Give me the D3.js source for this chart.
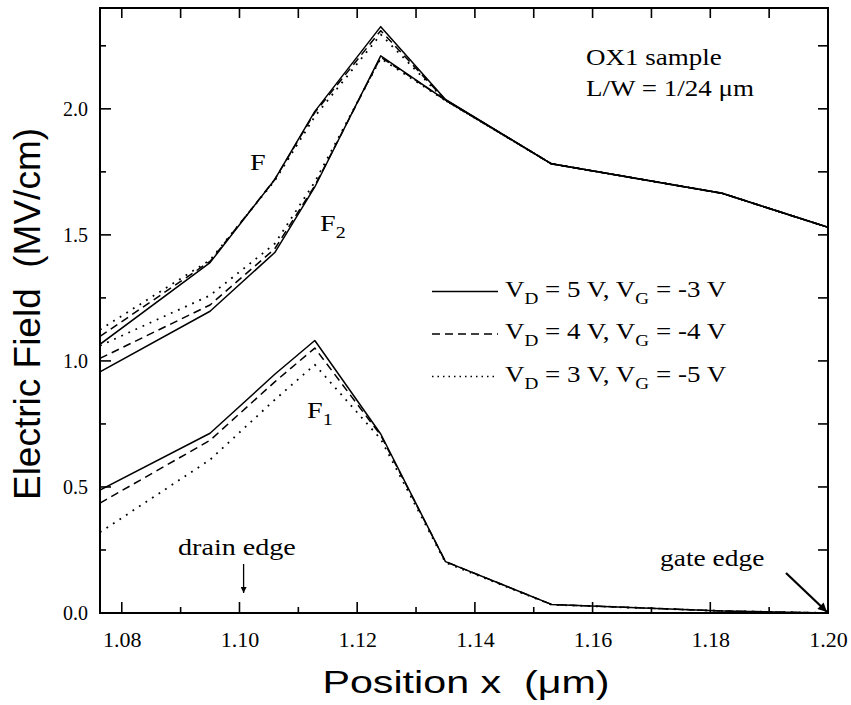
<!DOCTYPE html>
<html>
<head>
<meta charset="utf-8">
<script src="https://cdn.jsdelivr.net/npm/d3@7"></script>
<style>
  body { margin: 0; background: #fff; }
  text { fill: #000; }
</style>
</head>
<body>
<svg id="chart" width="851" height="705"></svg>
<script>
// node positions along the channel (um)
const positions = [1.0763, 1.095, 1.106, 1.1128, 1.124, 1.135, 1.153, 1.182, 1.20];

// total field F (MV/cm), one array per bias condition
const fTotalVd5 = [1.066, 1.390, 1.720, 1.990, 2.326, 2.037, 1.782, 1.665, 1.530];
const fTotalVd4 = [1.097, 1.395, 1.720, 1.985, 2.310, 2.035, 1.782, 1.665, 1.530];
const fTotalVd3 = [1.124, 1.400, 1.715, 1.970, 2.295, 2.033, 1.782, 1.665, 1.530];

// component F2
const f2Vd5 = [0.957, 1.197, 1.430, 1.690, 2.210, 2.035, 1.782, 1.665, 1.530];
const f2Vd4 = [1.010, 1.222, 1.445, 1.695, 2.205, 2.035, 1.782, 1.665, 1.530];
const f2Vd3 = [1.060, 1.260, 1.465, 1.710, 2.200, 2.033, 1.782, 1.665, 1.530];

// component F1
const f1Vd5 = [0.488, 0.713, 0.947, 1.081, 0.710, 0.204, 0.034, 0.008, 0.000];
const f1Vd4 = [0.436, 0.685, 0.917, 1.051, 0.705, 0.204, 0.034, 0.008, 0.000];
const f1Vd3 = [0.320, 0.608, 0.846, 0.985, 0.690, 0.200, 0.033, 0.008, 0.000];

const drainVoltages = [5, 4, 3];
const gateVoltages = [-3, -4, -5];

const xMajorTicks = [1.08, 1.10, 1.12, 1.14, 1.16, 1.18, 1.20];
const xMinorTicks = [1.09, 1.11, 1.13, 1.15, 1.17, 1.19];
const yMajorTicks = [0.0, 0.5, 1.0, 1.5, 2.0];
const yMinorTicks = [0.25, 0.75, 1.25, 1.75, 2.25];

const drainEdge = 1.1007;
const gateEdge = 1.20;

const margin = {left: 100, right: 23, top: 8, bottom: 92};
const width = 851 - margin.left - margin.right;
const height = 705 - margin.top - margin.bottom;

const serif = "'Liberation Serif', 'Times New Roman', serif";
const sans = "'Liberation Sans', Arial, sans-serif";
const dashes = [null, "8,5", "1.8,6"];

const svg = d3.select("#chart");

const x = d3.scaleLinear().domain([1.0763, 1.20]).range([margin.left, margin.left + width]);
const y = d3.scaleLinear().domain([0, 2.4]).range([margin.top + height, margin.top]);

const defs = svg.append("defs");
defs.append("clipPath").attr("id", "plotClip")
  .append("rect")
    .attr("x", margin.left).attr("y", margin.top)
    .attr("width", width).attr("height", height);

defs.append("marker")
    .attr("id", "headSmall")
    .attr("viewBox", "0 0 10 10")
    .attr("refX", 10).attr("refY", 5)
    .attr("markerUnits", "userSpaceOnUse")
    .attr("markerWidth", 10).attr("markerHeight", 6)
    .attr("orient", "auto")
  .append("path").attr("d", "M0,0L10,5L0,10Z");
defs.append("marker")
    .attr("id", "headBig")
    .attr("viewBox", "0 0 10 10")
    .attr("refX", 10).attr("refY", 5)
    .attr("markerUnits", "userSpaceOnUse")
    .attr("markerWidth", 13).attr("markerHeight", 9)
    .attr("orient", "auto")
  .append("path").attr("d", "M0,0L10,5L0,10Z");

// tick labels through d3 axes (tick lines drawn separately below)
svg.append("g")
  .attr("transform", `translate(0,${y(0)})`)
  .call(d3.axisBottom(x).tickValues(xMajorTicks).tickSize(0).tickPadding(18).tickFormat(d3.format(".2f")))
  .call(g => g.select(".domain").remove())
  .call(g => g.selectAll("line").remove())
  .call(g => g.selectAll("text").style("font-family", serif).style("font-size", "22px"));

svg.append("g")
  .attr("transform", `translate(${margin.left},0)`)
  .call(d3.axisLeft(y).tickValues(yMajorTicks).tickSize(0).tickPadding(12).tickFormat(d3.format(".1f")))
  .call(g => g.select(".domain").remove())
  .call(g => g.selectAll("line").remove())
  .call(g => g.selectAll("text").style("font-family", serif).style("font-size", "20px"));

// inward tick marks on all four sides
const ticks = svg.append("g").attr("stroke", "#000").attr("stroke-width", 1.6);
function xTicks(values, y0, len) {
  ticks.append("g").selectAll("line")
    .data(values)
    .join("line")
      .attr("x1", d => x(d)).attr("x2", d => x(d))
      .attr("y1", y0).attr("y2", y0 + len);
}
function yTicks(values, x0, len) {
  ticks.append("g").selectAll("line")
    .data(values)
    .join("line")
      .attr("y1", d => y(d)).attr("y2", d => y(d))
      .attr("x1", x0).attr("x2", x0 + len);
}
xTicks(xMajorTicks, y(0), -11);
xTicks(xMinorTicks, y(0), -6);
xTicks(xMajorTicks.concat(xMinorTicks), margin.top, 10);
yTicks(yMajorTicks, margin.left, 11);
yTicks(yMinorTicks, margin.left, 6);
yTicks(yMajorTicks.concat(yMinorTicks), margin.left + width, -10);

svg.append("rect")
  .attr("x", margin.left).attr("y", margin.top)
  .attr("width", width).attr("height", height)
  .attr("fill", "none").attr("stroke", "#000").attr("stroke-width", 2);

// curves
const line = d3.line()
  .x(d => x(d[0]))
  .y(d => y(d[1]));

const curveSets = [
  [f1Vd5, f1Vd4, f1Vd3],
  [f2Vd5, f2Vd4, f2Vd3],
  [fTotalVd5, fTotalVd4, fTotalVd3]
];

const curves = svg.append("g").attr("clip-path", "url(#plotClip)");
curveSets.forEach(function(set) {
  set.forEach(function(values, i) {
    curves.append("path")
      .datum(d3.zip(positions, values))
      .attr("fill", "none")
      .attr("stroke", "#000")
      .attr("stroke-width", i == 2 ? 1.8 : 1.5)
      .attr("stroke-linejoin", "round")
      .attr("stroke-dasharray", dashes[i])
      .attr("d", line);
  });
});

// stretched serif text, like the scanned original
function serifText(px, py, size, sx) {
  return svg.append("text")
    .attr("transform", `translate(${px},${py}) scale(${sx},1)`)
    .style("font-family", serif)
    .style("font-size", size + "px")
    .style("white-space", "pre");
}

function labelWithSub(px, py, main, sub) {
  const t = serifText(px, py, 22.5, 1.25);
  t.append("tspan").text(main);
  t.append("tspan").attr("dy", 7).style("font-size", "16px").text(sub);
}

labelWithSub(250, 170, "F", "");
labelWithSub(320, 231, "F", "2");
labelWithSub(307, 418, "F", "1");

serifText(586, 65, 22.5, 1.2).text("OX1 sample");
serifText(586, 96, 22.5, 1.2).text("L/W = 1/24 \u03bcm");

// legend
const legendRows = [291.5, 334, 376.5];
drainVoltages.forEach(function(vd, i) {
  svg.append("line")
    .attr("x1", 432).attr("x2", 498)
    .attr("y1", legendRows[i]).attr("y2", legendRows[i])
    .attr("stroke", "#000").attr("stroke-width", 1.4)
    .attr("stroke-dasharray", i == 2 ? "1.5,4" : dashes[i]);
  const t = serifText(505, legendRows[i] + 5, 22.5, 1.2);
  t.append("tspan").text("V");
  t.append("tspan").attr("dy", 7).style("font-size", "16px").text("D");
  t.append("tspan").attr("dy", -7).text(` = ${vd} V, V`);
  t.append("tspan").attr("dy", 7).style("font-size", "16px").text("G");
  t.append("tspan").attr("dy", -7).text(` = ${gateVoltages[i]} V`);
});

// edge annotations
serifText(178, 555, 22.5, 1.25).text("drain edge");
svg.append("line")
  .attr("x1", x(drainEdge)).attr("x2", x(drainEdge))
  .attr("y1", 564).attr("y2", 593)
  .attr("stroke", "#000").attr("stroke-width", 1.3)
  .attr("marker-end", "url(#headSmall)");

serifText(660, 566, 22.5, 1.22).text("gate edge");
svg.append("line")
  .attr("x1", 786).attr("y1", 573)
  .attr("x2", x(gateEdge) - 1).attr("y2", y(0) - 1)
  .attr("stroke", "#000").attr("stroke-width", 2.2)
  .attr("marker-end", "url(#headBig)");

// axis titles
svg.append("text")
  .attr("transform", `translate(466,693) scale(1.33,1)`)
  .attr("text-anchor", "middle")
  .style("font-family", sans)
  .style("font-size", "31px")
  .style("white-space", "pre")
  .text("Position x  (\u03bcm)");

svg.append("text")
  .attr("transform", "translate(40,314) rotate(-90)")
  .attr("text-anchor", "middle")
  .style("font-family", sans)
  .style("font-size", "37px")
  .style("white-space", "pre")
  .text("Electric Field  (MV/cm)");
</script>
</body>
</html>
